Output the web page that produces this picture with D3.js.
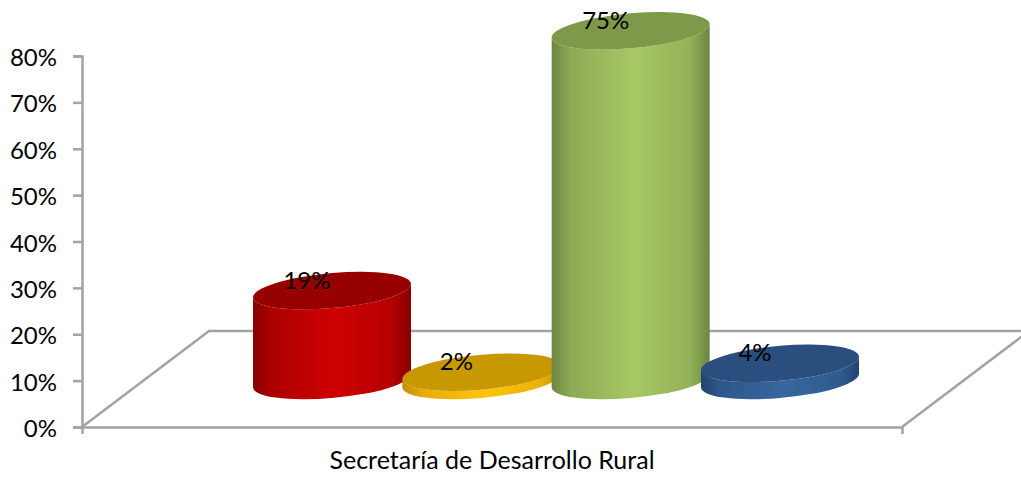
<!DOCTYPE html>
<html>
<head>
<meta charset="utf-8">
<script src="https://cdn.jsdelivr.net/npm/d3@7"></script>
<style>
  body { margin: 0; background: #fff; }
  text { font-family: Lato, "Open Sans", sans-serif; fill: #000; }
  .tick text { font-size: 24px; }
</style>
</head>
<body>
<div id="mydiv"></div>
<script>
const width = 1021,
  height = 477;

// Data
const category = "Secretaría de Desarrollo Rural";
const seriesIds = ["rojo", "amarillo", "verde", "azul"];
const seriesValues = [0.194, 0.018, 0.754, 0.037];
const seriesLabels = ["19%", "2%", "75%", "4%"];
const yTicks = [0, 0.1, 0.2, 0.3, 0.4, 0.5, 0.6, 0.7, 0.8];

// edge, centre, top colours of each cylinder
const sideEdge = ["#860000", "#c48c00", "#6b8540", "#1f4470"];
const sideMid = ["#cf0000", "#ffc40a", "#a8c864", "#37679f"];
const topFill = ["#960000", "#c89800", "#7e9949", "#2a4f7e"];

const axisColor = "#a3a3a3";
const rx = 79,
  ry = 17.5,
  shear = -0.085,
  baseLift = 46.5, // cylinders stand on the floor, above the axis
  depthX = 127,
  depthY = 96;

const svg = d3
  .select("#mydiv")
  .append("svg")
  .attr("width", width)
  .attr("height", height)
  .style("display", "block");

const yScale = d3.scaleLinear().domain([0, 0.8]).range([427, 56]);
const xAxisScale = d3.scalePoint().domain([category]).range([82, 902]);
const xScale = d3.scalePoint().domain(seriesIds).range([332, 780]);

const y0 = yScale(0);
const xLeft = xAxisScale.range()[0];
const xRight = xAxisScale.range()[1];

// Gradients for the cylinder sides
const defs = svg.append("defs");
seriesIds.forEach((id, i) => {
  const grad = defs
    .append("linearGradient")
    .attr("id", "side-" + id)
    .attr("x1", "0%")
    .attr("x2", "100%")
    .attr("y1", "0%")
    .attr("y2", "0%");
  grad.append("stop").attr("offset", "0%").attr("stop-color", sideEdge[i]);
  grad.append("stop").attr("offset", "12%").attr("stop-color", d3.interpolateRgb(sideEdge[i], sideMid[i])(0.55));
  grad.append("stop").attr("offset", "52%").attr("stop-color", sideMid[i]);
  grad.append("stop").attr("offset", "88%").attr("stop-color", d3.interpolateRgb(sideEdge[i], sideMid[i])(0.65));
  grad.append("stop").attr("offset", "100%").attr("stop-color", sideEdge[i]);
});

// Floor
const floorPts = [
  [xLeft, y0],
  [xLeft + depthX, y0 - depthY],
  [xRight + depthX, y0 - depthY],
  [xRight, y0],
];
svg
  .append("path")
  .attr("d", d3.line()(floorPts))
  .attr("fill", "none")
  .attr("stroke", axisColor)
  .attr("stroke-width", 2.5);

// Y axis
const yAxis = svg
  .append("g")
  .attr("class", "y-axis")
  .attr("transform", `translate(${xLeft}, 0)`)
  .call(d3.axisLeft(yScale).tickValues(yTicks).tickFormat(d3.format(".0%")).tickSize(9).tickPadding(16));
yAxis.selectAll("path, line").attr("stroke", axisColor).attr("stroke-width", 2.5);
yAxis.selectAll("text").attr("dy", "0.4em");

// X axis
const xAxis = svg
  .append("g")
  .attr("class", "x-axis")
  .attr("transform", `translate(0, ${y0})`)
  .call(d3.axisBottom(xAxisScale).tickValues([]).tickSizeOuter(7));
xAxis.select("path").attr("stroke", axisColor).attr("stroke-width", 2.5);

svg
  .append("text")
  .attr("x", (xLeft + xRight) / 2)
  .attr("y", 469)
  .attr("text-anchor", "middle")
  .style("font-size", "25px")
  .text(category);

// Cylinders
seriesIds.forEach((id, i) => {
  const h = y0 - yScale(seriesValues[i]);
  const g = svg
    .append("g")
    .attr("transform", `matrix(1, ${shear}, 0, 1, ${xScale(id)}, ${y0 - baseLift})`);

  g.append("path")
    .attr("d", `M${-rx},0 A${rx},${ry} 0 0 0 ${rx},0 V${-h} A${rx},${ry} 0 0 1 ${-rx},${-h} Z`)
    .attr("fill", `url(#side-${id})`);

  g.append("ellipse")
    .attr("cx", 0)
    .attr("cy", -h)
    .attr("rx", rx)
    .attr("ry", ry)
    .attr("fill", topFill[i]);
});

// Value labels
seriesIds.forEach((id, i) => {
  svg
    .append("text")
    .attr("x", xScale(id) - 25)
    .attr("y", y0 - baseLift - (y0 - yScale(seriesValues[i])) - 2)
    .attr("text-anchor", "middle")
    .style("font-size", "24px")
    .text(seriesLabels[i]);
});
</script>
</body>
</html>
